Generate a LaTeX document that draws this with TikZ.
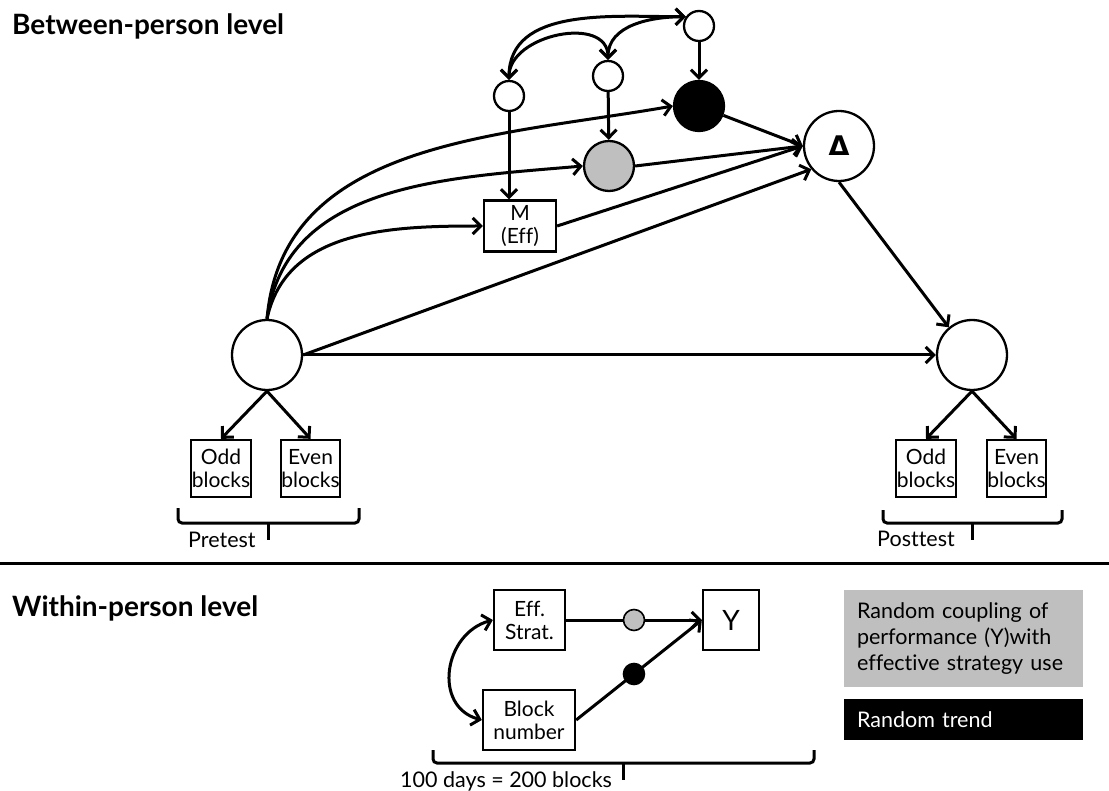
\documentclass[tikz,border=0pt]{standalone}
\usepackage{fontspec}
\setmainfont{Lato}[Ligatures=NoCommon]
\newfontfamily\symfont{DejaVu Sans}
\usetikzlibrary{arrows.meta}

\begin{document}
\begin{tikzpicture}[
            x=1pt, y=-1pt,
            conn/.style={line width=3pt, -{Straight Barb[length=8pt, width=16pt]}},
            cov/.style={line width=3pt, {Straight Barb[length=8pt, width=16pt]}-{Straight Barb[length=8pt, width=16pt]}},
            latent/.style={circle, draw, line width=2.3pt, fill=white, minimum size=70pt, inner sep=0pt},
            small/.style={latent, minimum size=30pt},
            slope/.style={latent, minimum size=50pt},
            obs/.style={rectangle, draw, line width=2.3pt, fill=white, inner sep=0.5pt, align=center,
                font=\fontsize{21}{23}\selectfont},
            dot/.style={circle, draw, line width=1.6pt, minimum size=21pt, inner sep=0pt},
            lbl/.style={font=\fontsize{21.5}{24}\selectfont, inner sep=0pt, anchor=base west},
            ttl/.style={font=\bfseries\fontsize{28}{30}\selectfont, inner sep=0pt, anchor=base west},
            legend/.style={rectangle, minimum width=239pt, text width=213pt, inner sep=0pt, align=left,
                font=\fontsize{21.5}{26}\selectfont},
            bracket/.style={line width=3pt, rounded corners=4pt},
        ]
            \useasboundingbox (0,0) rectangle (1109,791);

            %% between-person level
            \node[ttl] (ttlBetween) at (12,35) {Between-person level};

            \node[latent] (pre) at (267,355) {};
            \node[latent] (post) at (972,355) {};
            \node[latent, font=\symfont\bfseries\fontsize{27}{30}\selectfont] (delta) at (839,146) {Δ};
            \node[obs, minimum width=72pt, minimum height=51pt] (mEff) at (520,226) {M\\(Eff)};
            \node[slope, fill=black!25] (gc) at (609,166) {};
            \node[slope, fill=black] (bc) at (699,106) {};
            \node[small] (lA) at (509,96) {};
            \node[small] (lB) at (608,76) {};
            \node[small] (lC) at (699,26) {};

            \node[obs, minimum width=58pt, minimum height=57pt] (odd1) at (221,468.5) {Odd\\blocks};
            \node[obs, minimum width=57pt, minimum height=57pt] (even1) at (310.5,468.5) {Even\\blocks};
            \node[obs, minimum width=58pt, minimum height=57pt] (odd2) at (926,468.5) {Odd\\blocks};
            \node[obs, minimum width=57pt, minimum height=57pt] (even2) at (1016.5,468.5) {Even\\blocks};

            %% covariances of the random effects
            \draw[cov] (lA.north) to[out=90, in=180] (lC.145);
            \draw[cov] (lA.north) to[out=90, in=90, looseness=1.15] (lB.north);
            \draw[cov] (lB.north) to[out=90, in=180] (lC.145);
            \draw[conn] (lA) -- (lA |- mEff.north);
            \draw[conn] (lB) -- (gc);
            \draw[conn] (lC) -- (bc);

            %% paths from pretest
            \draw[conn] (pre.north) to[out=85, in=190] (bc.west);
            \draw[conn] (pre.north) to[out=82, in=185] (gc.west);
            \draw[conn] (pre.north) to[out=78, in=180] (mEff.west);
            \draw[conn] (pre.east) -- (delta.220);
            \draw[conn] (pre.east) -- (post.west);
            \draw[conn] (bc) -- (delta.west);
            \draw[conn] (gc.east) -- (delta.west);
            \draw[conn] (mEff.east) -- (delta.west);
            \draw[conn] (delta.south) -- (post.130);

            \draw[conn] (pre.south) -- (odd1.north);
            \draw[conn] (pre.south) -- (even1.north);
            \draw[conn] (post.south) -- (odd2.north);
            \draw[conn] (post.south) -- (even2.north);

            \node[lbl] (preLbl) at (188,547) {Pretest};
            \node[lbl] (postLbl) at (877,546) {Posttest};

            \draw[line width=3pt] (0,563) -- (1109,563);

            %% within-person level
            \node[ttl] (ttlWithin) at (12,616) {Within-person level};

            \node[obs, minimum width=71pt, minimum height=60pt] (strat) at (529.5,620) {Eff.\\Strat.};
            \node[obs, minimum width=92pt, minimum height=60pt] (blkNum) at (529,720) {Block\\number};
            \node[obs, minimum width=56pt, minimum height=60pt, font=\fontsize{28}{30}\selectfont] (Y) at (731,620) {Y};

            \draw[cov] (strat.west) to[out=195, in=165, looseness=1.3] (blkNum.west);
            \draw[conn] (strat.east) -- node[dot, fill=black!25, pos=.5] (gDot) {} (Y.west);
            \draw[conn] (blkNum.east) -- node[dot, fill=black, pos=.46] (bDot) {} (Y.west);

            \node[lbl] (daysLbl) at (400,787) {100 days = 200 blocks};

            %% brackets under the measurements
            \foreach \l/\r/\t/\b in {178/359/508/523, 883/1062/510/523, 433/814/750/763}{
                \draw[bracket] (\l,\t) -- (\l,\b) -- (\r,\b) -- (\r,\t);
                \draw[line width=3pt] ({(\l+\r)/2},\b) -- ({(\l+\r)/2},{\b+17});
            }

            %% legend
            \node[legend, fill=black!25, minimum height=97pt] (lgCoupling) at (963.5,638.5)
                {Random coupling of\\performance (Y)with\\effective strategy use};
            \node[legend, fill=black, text=white, minimum height=41pt] (lgTrend) at (963.5,719.5)
                {Random trend};
        \end{tikzpicture}
\end{document}
